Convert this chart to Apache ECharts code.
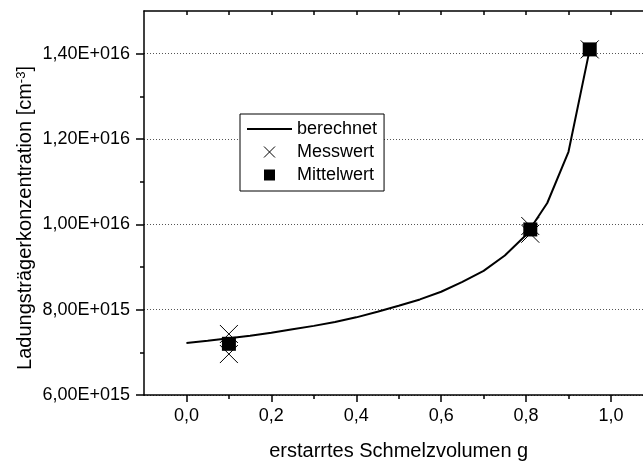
<!DOCTYPE html>
<html>
<head>
<meta charset="utf-8">
<script src="https://cdn.jsdelivr.net/npm/echarts@6/dist/echarts.min.js"></script>
<style>
html,body{margin:0;padding:0;background:#fff;}
#c{width:643px;height:461px;}
</style>
</head>
<body>
<div id="c"></div>
<script>
// ---- data ----
const xTicks = [0, 0.2, 0.4, 0.6, 0.8, 1.0];
const xMinorTicks = [0.1, 0.3, 0.5, 0.7, 0.9];
const xTopTicks = [0, 0.1, 0.2, 0.3, 0.4, 0.5, 0.6, 0.7, 0.8, 0.9, 1.0];
const yTicks = [6e15, 8e15, 1e16, 1.2e16, 1.4e16];
const yMinorTicks = [7e15, 9e15, 1.1e16, 1.3e16];

const gCalc = [0, 0.05, 0.1, 0.15, 0.2, 0.25, 0.3, 0.35, 0.4, 0.45, 0.5, 0.55, 0.6, 0.65, 0.7, 0.75, 0.8, 0.85, 0.9, 0.95];
const cCalc = [7.22e15, 7.27e15, 7.33e15, 7.39e15, 7.46e15, 7.54e15, 7.62e15, 7.71e15, 7.82e15, 7.95e15, 8.09e15, 8.24e15, 8.42e15, 8.65e15, 8.91e15, 9.27e15, 9.75e15, 10.5e15, 11.7e15, 14.1e15];

const gMess = [0.1, 0.1, 0.81, 0.81, 0.95];
const cMess = [7.43e15, 6.96e15, 9.96e15, 9.78e15, 14.1e15];

const gMittel = [0.1, 0.81, 0.95];
const cMittel = [7.2e15, 9.88e15, 14.1e15];

const seriesNames = ['berechnet', 'Messwert', 'Mittelwert'];
const xTitle = 'erstarrtes Schmelzvolumen g';
const yTitle = 'Ladungsträgerkonzentration [cm{sup|-3}]';

// ---- helpers ----
const FONT = 'Liberation Sans, Arial, sans-serif';
function zip(a, b) { return a.map((v, i) => [v, b[i]]); }
function fmtY(v) {
  const e = Math.floor(Math.log10(v) + 1e-9);
  const m = v / Math.pow(10, e);
  return m.toFixed(2).replace('.', ',') + 'E+' + String(e).padStart(3, '0');
}
function fmtX(v) { return v.toFixed(1).replace('.', ','); }

const X_MIN = -0.1, X_MAX = 1.1, Y_MIN = 6e15, Y_MAX = 1.5e16;
const black = '#000';
const X_PATH = 'path://M0,0L10,10M10,0L0,10';
const SQ_PATH = 'path://M0,0L10,0L10,10L0,10Z';
const LINE_PATH = 'path://M0,0L45,0L45,2L0,2Z';

const chart = echarts.init(document.getElementById('c'), null, { renderer: 'canvas' });
chart.setOption({
  animation: false,
  backgroundColor: '#fff',
  grid: { left: 144, top: 11, right: -10.4, bottom: 66, containLabel: false, outerBoundsMode: 'none' },
  legend: {
    data: [
      { name: seriesNames[0], icon: LINE_PATH },
      { name: seriesNames[1], icon: X_PATH, itemStyle: { borderWidth: 1 } },
      { name: seriesNames[2], icon: SQ_PATH }
    ],
    orient: 'vertical',
    left: 240, top: 114,
    padding: [5, 7, 6, 7],
    itemGap: 3,
    itemWidth: 45, itemHeight: 11,
    symbolKeepAspect: true,
    borderColor: black, borderWidth: 1,
    backgroundColor: '#fff',
    selectedMode: false,
    textStyle: { fontSize: 18, lineHeight: 20, color: black, fontFamily: FONT }
  },
  xAxis: [
    {
      type: 'value', position: 'bottom', min: X_MIN, max: X_MAX, interval: 0.2,
      name: xTitle, nameLocation: 'middle', nameGap: 46,
      nameTextStyle: { fontSize: 20, color: black, fontFamily: FONT },
      axisLine: { show: true, onZero: false, lineStyle: { color: black, width: 1.5 } },
      axisTick: { show: true, inside: false, length: 7, customValues: xTicks, lineStyle: { color: black, width: 1.5 } },
      axisLabel: { show: true, margin: 12, fontSize: 18, color: black, fontFamily: FONT, customValues: xTicks, formatter: fmtX },
      splitLine: { show: false }
    },
    {
      type: 'value', position: 'bottom', min: X_MIN, max: X_MAX, interval: 0.2,
      axisLine: { show: false, onZero: false },
      axisTick: { show: true, inside: false, length: 4, customValues: xMinorTicks, lineStyle: { color: black, width: 1.5 } },
      axisLabel: { show: false },
      splitLine: { show: false }
    },
    {
      type: 'value', position: 'top', min: X_MIN, max: X_MAX, interval: 0.2,
      axisLine: { show: true, onZero: false, lineStyle: { color: black, width: 1.5 } },
      axisTick: { show: true, inside: true, length: 4, customValues: xTopTicks, lineStyle: { color: black, width: 1.5 } },
      axisLabel: { show: false },
      splitLine: { show: false }
    }
  ],
  yAxis: [
    {
      type: 'value', position: 'left', min: Y_MIN, max: Y_MAX, interval: 2e15,
      axisLine: { show: true, onZero: false, lineStyle: { color: black, width: 1.5 } },
      axisTick: { show: true, inside: false, length: 8, customValues: yTicks, lineStyle: { color: black, width: 1.5 } },
      axisLabel: { show: true, margin: 14, fontSize: 18, color: black, fontFamily: FONT, customValues: yTicks, formatter: fmtY },
      splitLine: { show: true, lineStyle: { color: '#555', width: 1, type: [1, 2] } }
    },
    {
      type: 'value', position: 'left', min: Y_MIN, max: Y_MAX, interval: 2e15,
      axisLine: { show: false, onZero: false },
      axisTick: { show: true, inside: false, length: 4, customValues: yMinorTicks, lineStyle: { color: black, width: 1.5 } },
      axisLabel: { show: false },
      splitLine: { show: false }
    }
  ],
  series: [
    {
      name: seriesNames[0], type: 'line', xAxisIndex: 0, yAxisIndex: 0,
      data: zip(gCalc, cCalc), symbol: 'none', showSymbol: false, smooth: false,
      lineStyle: { color: black, width: 2 }, itemStyle: { color: black }, z: 2
    },
    {
      name: seriesNames[1], type: 'scatter', xAxisIndex: 0, yAxisIndex: 0,
      data: zip(gMess, cMess), symbol: X_PATH, symbolSize: 18,
      itemStyle: { color: 'none', borderColor: black, borderWidth: 1, opacity: 1 }, z: 3
    },
    {
      name: seriesNames[2], type: 'scatter', xAxisIndex: 0, yAxisIndex: 0,
      data: zip(gMittel, cMittel), symbol: 'rect', symbolSize: 14,
      itemStyle: { color: black, opacity: 1 }, z: 4
    }
  ],
  graphic: [
    {
      type: 'text', x: 25, y: 218, rotation: Math.PI / 2,
      style: {
        text: yTitle, align: 'center', verticalAlign: 'middle',
        fontSize: 20, fontFamily: FONT, fill: black,
        rich: { sup: { fontSize: 13, verticalAlign: 'top', fill: black, fontFamily: FONT, padding: [0, 0, 8, 0] } }
      }
    }
  ]
});
</script>
</body>
</html>
